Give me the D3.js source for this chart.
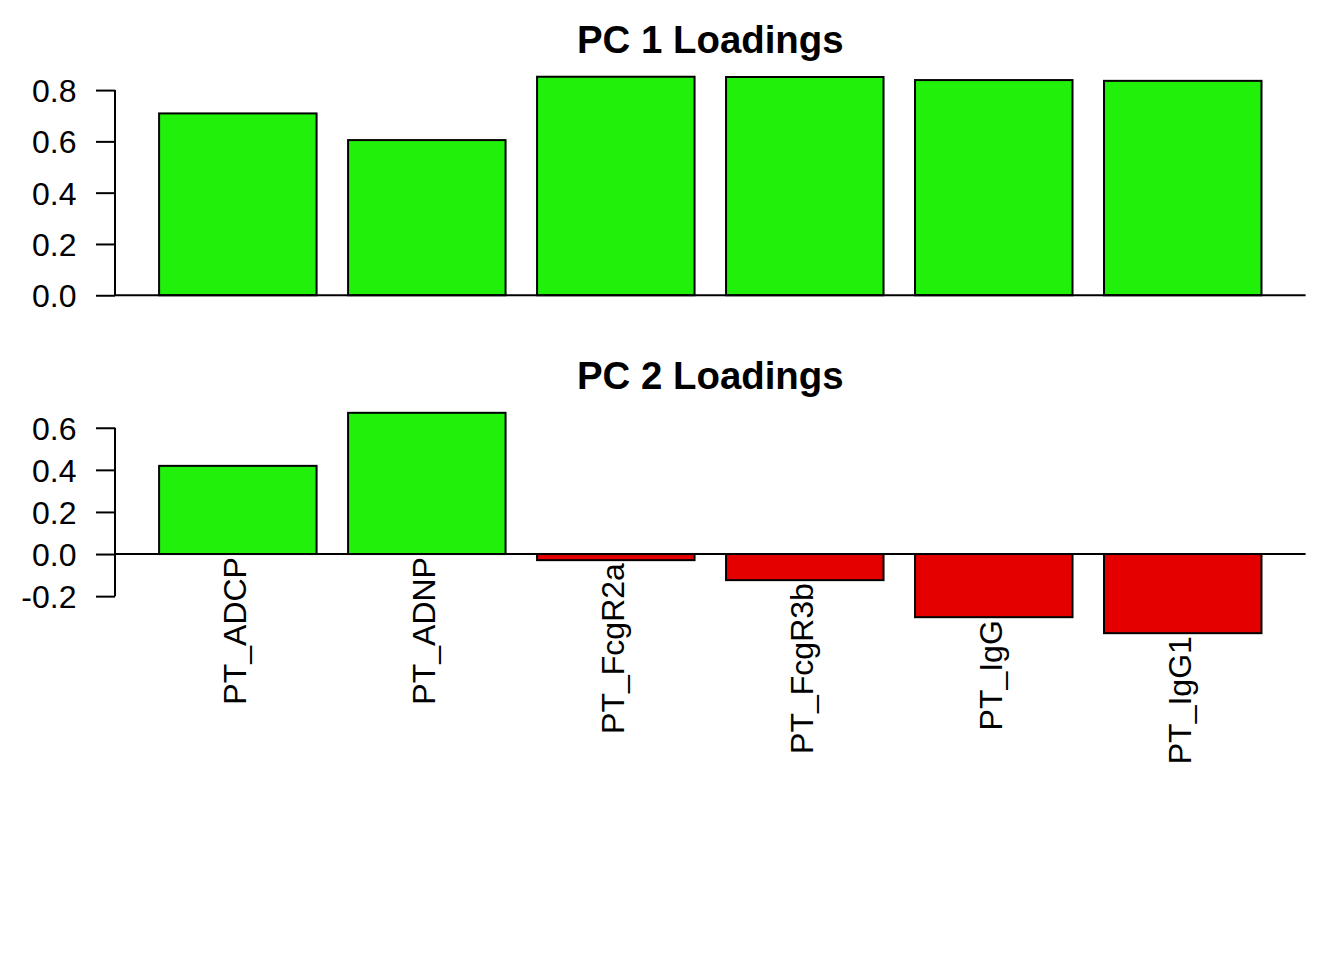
<!DOCTYPE html>
<html>
<head>
<meta charset="utf-8">
<script src="https://cdn.jsdelivr.net/npm/d3@7"></script>
<style>
  body { margin: 0; background: #fff; }
  svg text { font-family: "Liberation Sans", Arial, Helvetica, sans-serif; fill: #000; }
</style>
</head>
<body>
<svg id="svg" width="1344" height="960"></svg>
<script>
// loadings
var names = ["PT_ADCP", "PT_ADNP", "PT_FcgR2a", "PT_FcgR3b", "PT_IgG", "PT_IgG1"];
var pc1 = [0.709, 0.605, 0.852, 0.851, 0.839, 0.836];
var pc2 = [0.419, 0.671, -0.029, -0.124, -0.300, -0.376];
var pc1Ticks = [0.0, 0.2, 0.4, 0.6, 0.8];
var pc2Ticks = [-0.2, 0.0, 0.2, 0.4, 0.6];
var titles = ["PC 1 Loadings", "PC 2 Loadings"];

var green = "#21f00a", red = "#e50000";
var svg = d3.select("#svg");

// barplot style x: bars of width 1 with 0.2 space, range padded 4%
var xlo = 0.2, xhi = names.length * 1.2;
var xpad = (xhi - xlo) * 0.04;
var x = d3.scaleLinear().domain([xlo - xpad, xhi + xpad]).range([115, 1305.6]);

function panel(values, ticks, title, top, bottom) {
    var lo = Math.min(0, d3.min(values)), hi = Math.max(0, d3.max(values));
    var pad = (hi - lo) * 0.04;
    var y = d3.scaleLinear().domain([lo - pad, hi + pad]).range([bottom, top]);
    var g = svg.append("g");

    g.selectAll("rect").data(values).enter().append("rect")
        .attr("x", function(d, i) { return x(0.2 + i * 1.2); })
        .attr("width", function(d, i) { return x(1.2 + i * 1.2) - x(0.2 + i * 1.2); })
        .attr("y", function(d) { return y(Math.max(d, 0)); })
        .attr("height", function(d) { return Math.abs(y(d) - y(0)); })
        .attr("fill", function(d) { return d >= 0 ? green : red; })
        .attr("stroke", "#000")
        .attr("stroke-width", 2);

    // zero line across the plot region
    g.append("line")
        .attr("x1", x.range()[0]).attr("x2", x.range()[1])
        .attr("y1", y(0)).attr("y2", y(0))
        .attr("stroke", "#000").attr("stroke-width", 2);

    // y axis, line only between first and last tick
    var ax = g.append("g").attr("transform", "translate(" + x.range()[0] + ",0)")
        .call(d3.axisLeft(y).tickValues(ticks).tickSize(19).tickPadding(19.5)
            .tickFormat(function(d) { return d.toFixed(1); }));
    ax.select(".domain").remove();
    ax.selectAll("line").attr("stroke-width", 2);
    ax.selectAll("text").attr("font-size", 32).attr("dy", "0.36em")
        .style("font-family", "'Liberation Sans', Arial, Helvetica, sans-serif");
    ax.append("line")
        .attr("x1", 0).attr("x2", 0)
        .attr("y1", y(d3.min(ticks))).attr("y2", y(d3.max(ticks)))
        .attr("stroke", "#000").attr("stroke-width", 2);

    svg.append("text")
        .attr("x", (x.range()[0] + x.range()[1]) / 2)
        .attr("y", top - 15)
        .attr("text-anchor", "middle")
        .attr("font-size", 38.4)
        .attr("font-weight", "bold")
        .text(title);

    return y;
}

panel(pc1, pc1Ticks, titles[0], 68, 304);
var y2 = panel(pc2, pc2Ticks, titles[1], 404, 642);

// bar names, rotated, hanging under each bar
svg.selectAll("text.name").data(names).enter().append("text")
    .attr("class", "name")
    .attr("transform", function(d, i) {
        var cx = x(0.7 + i * 1.2);
        var yy = y2(Math.min(pc2[i], 0)) + 3;
        return "translate(" + cx + "," + yy + ") rotate(-90)";
    })
    .attr("text-anchor", "end")
    .attr("dy", "0.27em")
    .attr("font-size", 32)
    .text(function(d) { return d; });
</script>
</body>
</html>
